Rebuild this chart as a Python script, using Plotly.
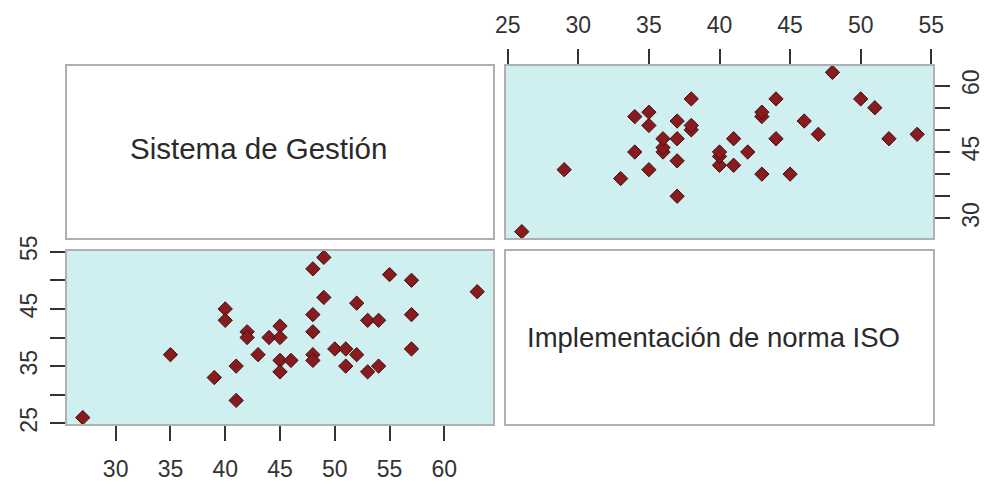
import plotly.graph_objects as go

# Scores per respondent: management system vs. ISO standard implementation
sistema_gestion = [27, 35, 39, 40, 40, 41, 41, 42, 42, 43, 44, 45, 45, 45, 45, 46, 48, 48, 48,
                   48, 48, 49, 49, 50, 51, 51, 52, 52, 53, 53, 54, 54, 55, 57, 57, 57, 63]
norma_iso = [26, 37, 33, 45, 43, 35, 29, 41, 40, 37, 40, 42, 40, 36, 34, 36, 52, 44, 41,
             37, 36, 54, 47, 38, 38, 35, 46, 37, 43, 34, 43, 35, 51, 50, 44, 38, 48]

var_names = ["Sistema de Gestión", "Implementación de norma ISO"]

# Tick positions and the labels shown on each outer axis
ticks_top = [25, 30, 35, 40, 45, 50, 55]
labels_top = ["25", "30", "35", "40", "45", "50", "55"]
ticks_right = [30, 35, 40, 45, 50, 55, 60]
labels_right = ["30", "", "", "45", "", "", "60"]
ticks_left = [25, 30, 35, 40, 45, 50, 55]
labels_left = ["25", "", "35", "", "45", "", "55"]
ticks_bottom = [30, 35, 40, 45, 50, 55, 60]
labels_bottom = ["30", "35", "40", "45", "50", "55", "60"]


def padded(values, frac=0.04):
    lo, hi = min(values), max(values)
    d = (hi - lo) * frac
    return [lo - d, hi + d]


W, H = 984, 485
col_dom = [[67 / W, 493 / W], [506 / W, 933 / W]]
row_dom = [[1 - 238 / H, 1 - 66 / H], [1 - 424 / H, 1 - 251 / H]]  # top row, bottom row

PANEL_BG = "#cfeff0"
BORDER = "#b0b0b0"
TICK_COLOR = "#333333"
FONT = "Liberation Sans, Arial, sans-serif"
marker = dict(symbol="diamond", size=11, color="#861c1f",
              line=dict(color="#4a0c0c", width=1))

fig = go.Figure()

# Diagonal panels hold only the variable names; an empty trace creates each subplot
for xr, yr in (("x", "y"), ("x4", "y4")):
    fig.add_trace(go.Scatter(x=[None], y=[None], mode="markers", xaxis=xr, yaxis=yr,
                             showlegend=False, hoverinfo="skip"))

# Top-right: x = ISO, y = Sistema de Gestión
fig.add_trace(go.Scatter(x=norma_iso, y=sistema_gestion, mode="markers",
                         marker=marker, xaxis="x2", yaxis="y2", showlegend=False))
# Bottom-left: x = Sistema de Gestión, y = ISO
fig.add_trace(go.Scatter(x=sistema_gestion, y=norma_iso, mode="markers",
                         marker=marker, xaxis="x3", yaxis="y3", showlegend=False))

tickfont = dict(family=FONT, size=23, color="#333333")
common = dict(showgrid=False, zeroline=False, showline=True, mirror=True,
              linecolor=BORDER, linewidth=2, ticks="outside", ticklen=15,
              tickwidth=2, tickcolor=TICK_COLOR, tickfont=tickfont, automargin=False)
blank = dict(showgrid=False, zeroline=False, showline=True, mirror=True,
             linecolor=BORDER, linewidth=2, showticklabels=False, ticks="",
             range=[0, 1], fixedrange=True, automargin=False)

layout = dict(
    width=W, height=H, margin=dict(l=0, r=0, t=0, b=0),
    paper_bgcolor="white", plot_bgcolor="white",
    # top-left text panel
    xaxis=dict(domain=col_dom[0], anchor="y", **blank),
    yaxis=dict(domain=row_dom[0], anchor="x", **blank),
    # top-right scatter
    xaxis2=dict(domain=col_dom[1], anchor="y2", side="top", range=padded(norma_iso),
                tickvals=ticks_top, ticktext=labels_top, ticklabelstandoff=7, **common),
    yaxis2=dict(domain=row_dom[0], anchor="x2", side="right", range=padded(sistema_gestion),
                tickvals=ticks_right, ticktext=labels_right, tickangle=-90,
                ticklabelstandoff=1, **common),
    # bottom-left scatter
    xaxis3=dict(domain=col_dom[0], anchor="y3", range=padded(sistema_gestion),
                tickvals=ticks_bottom, ticktext=labels_bottom, ticklabelstandoff=8, **common),
    yaxis3=dict(domain=row_dom[1], anchor="x3", range=padded(norma_iso),
                tickvals=ticks_left, ticktext=labels_left, tickangle=-90,
                ticklabelstandoff=4, **common),
    # bottom-right text panel
    xaxis4=dict(domain=col_dom[1], anchor="y4", **blank),
    yaxis4=dict(domain=row_dom[1], anchor="x4", **blank),
)
fig.update_layout(**layout)

# cyan backgrounds behind the scatter panels
for xr, yr in (("x2", "y2"), ("x3", "y3")):
    fig.add_shape(type="rect", xref=f"{xr} domain", yref=f"{yr} domain",
                  x0=0, x1=1, y0=0, y1=1, fillcolor=PANEL_BG, line_width=0, layer="below")

# variable names on the diagonal
fig.add_annotation(text=var_names[0], xref="x domain", yref="y domain", x=0.45, y=0.52,
                   showarrow=False, font=dict(family=FONT, size=29.5, color="#2a2a2a"))
fig.add_annotation(text=var_names[1], xref="x4 domain", yref="y4 domain", x=0.485, y=0.5,
                   showarrow=False, font=dict(family=FONT, size=27.5, color="#2a2a2a"))

fig.write_html("out.html")
